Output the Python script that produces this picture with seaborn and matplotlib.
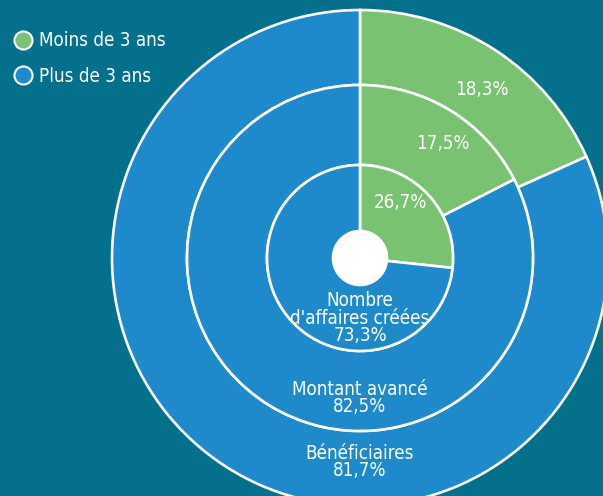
import numpy as np
import seaborn as sns
import matplotlib.pyplot as plt
from matplotlib.lines import Line2D

# Data
rings = ['Bénéficiaires', 'Montant avancé', "Nombre\nd'affaires créées"]
moins_3_ans = [18.3, 17.5, 26.7]
plus_3_ans = [81.7, 82.5, 73.3]
series_labels = ['Moins de 3 ans', 'Plus de 3 ans']

sns.set_theme(style='white')
plt.rcParams['font.family'] = ['DejaVu Sans']
plt.rcParams['font.stretch'] = 'condensed'

bg = '#04708C'
green = '#78C272'
blue = '#1F8ACB'
palette = sns.color_palette([green, blue])

fig = plt.figure(figsize=(6.03, 4.96), dpi=100)
fig.patch.set_facecolor(bg)
ax = fig.add_axes([0, 0, 1, 1])
ax.set_facecolor(bg)

cx, cy = 360, 238
radii = [248, 173, 93]
inner_hole = 27
label_r = [208, 141, 69]

for i, (name, m, p) in enumerate(zip(rings, moins_3_ans, plus_3_ans)):
    r = radii[i]
    w = r - (radii[i + 1] if i + 1 < len(radii) else inner_hole)
    ax.pie([m, p], colors=palette, startangle=90, counterclock=False,
           radius=r, center=(cx, cy), frame=True,
           wedgeprops=dict(width=w, edgecolor='white', linewidth=1.9))
    ang = np.deg2rad(90 - 36)
    ax.text(cx + label_r[i] * np.cos(ang), cy + label_r[i] * np.sin(ang),
            f'{m}'.replace('.', ',') + '%',
            color='white', fontsize=13.5, ha='center', va='center')

# centre white circle
ax.add_patch(plt.Circle((cx, cy), inner_hole, color='white', zorder=5))
ax.set_xlim(0, 603)
ax.set_ylim(0, 496)
ax.set_aspect('equal')
ax.axis('off')

# bottom labels for the blue part
label_y = [496 - 462, 496 - 398, 496 - 318]
for name, p, y in zip(rings, plus_3_ans, label_y):
    ax.text(cx, y, name + '\n' + f'{p}'.replace('.', ',') + '%', color='white',
            fontsize=13.5, ha='center', va='center', linespacing=0.92)

handles = [Line2D([0], [0], marker='o', linestyle='', markersize=13,
                  markerfacecolor=c, markeredgecolor='white', markeredgewidth=1.5)
           for c in palette]
leg = fig.legend(handles, series_labels, loc='upper left', bbox_to_anchor=(0.0, 0.96),
                 frameon=False, fontsize=13.5, labelcolor='white', handletextpad=0.3,
                 labelspacing=0.9, handlelength=1.2, borderaxespad=0.2)

plt.savefig('out.png', dpi=100, facecolor=bg)
